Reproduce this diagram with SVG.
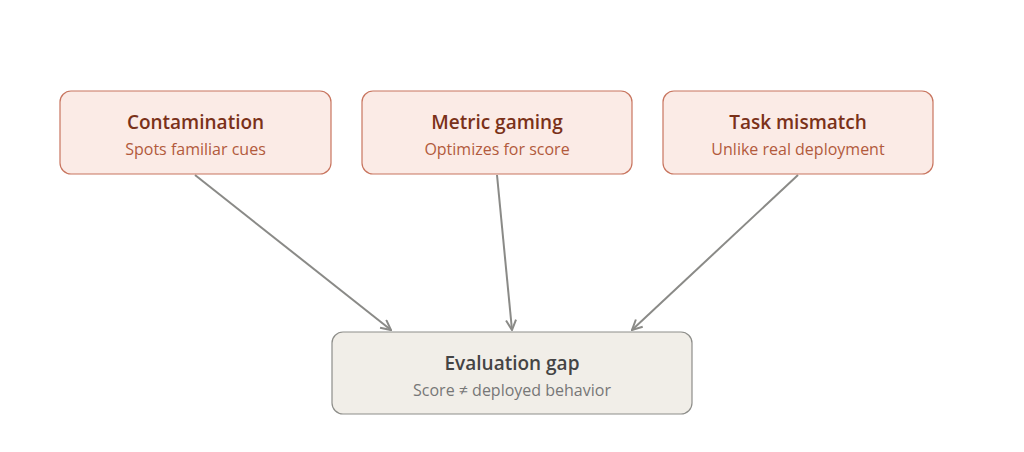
<svg xmlns="http://www.w3.org/2000/svg" width="1024" height="452" viewBox="0 0 1024 452">
<style>
.top rect{fill:#fbebe6;stroke:#c8755f;stroke-width:1.2}
.bot rect{fill:#f1eee8;stroke:#8e8e8a;stroke-width:1.2}
text{font-family:"Open Sans","Noto Sans",sans-serif;text-anchor:middle}
.t{font-size:19px;font-weight:600}
.s{font-size:16px}
.top .t{fill:#7a3119}.top .s{fill:#b25a3c}
.bot .t{fill:#444}.bot .s{fill:#777}
#edges path{stroke:#8a8a87;stroke-width:2;fill:none;marker-end:url(#a)}
</style>
<defs><marker id="a" viewBox="0 0 12 12" refX="11" refY="6" markerWidth="12" markerHeight="12" markerUnits="userSpaceOnUse" orient="auto"><path d="M1,1 L11,6 L1,11" fill="none" stroke="#8a8a87" stroke-width="2"/></marker></defs>
<rect width="1024" height="452" fill="#fff"/>
<g id="edges">
<path d="M195,175 L391,330"/>
<path d="M497,175 L512,330"/>
<path d="M798,175 L632,330"/>
</g>
<g id="n1" class="top"><rect x="60" y="91" width="271" height="83" rx="11"/><text class="t" x="195.5" y="129">Contamination</text><text class="s" x="195.5" y="155">Spots familiar cues</text></g>
<g id="n2" class="top"><rect x="362" y="91" width="270" height="83" rx="11"/><text class="t" x="497" y="129">Metric gaming</text><text class="s" x="497" y="155">Optimizes for score</text></g>
<g id="n3" class="top"><rect x="663" y="91" width="270" height="83" rx="11"/><text class="t" x="798" y="129">Task mismatch</text><text class="s" x="798" y="155">Unlike real deployment</text></g>
<g id="n4" class="bot"><rect x="332" y="332" width="360" height="82" rx="11"/><text class="t" x="512" y="370">Evaluation gap</text><text class="s" x="512" y="396">Score ≠ deployed behavior</text></g>
</svg>
